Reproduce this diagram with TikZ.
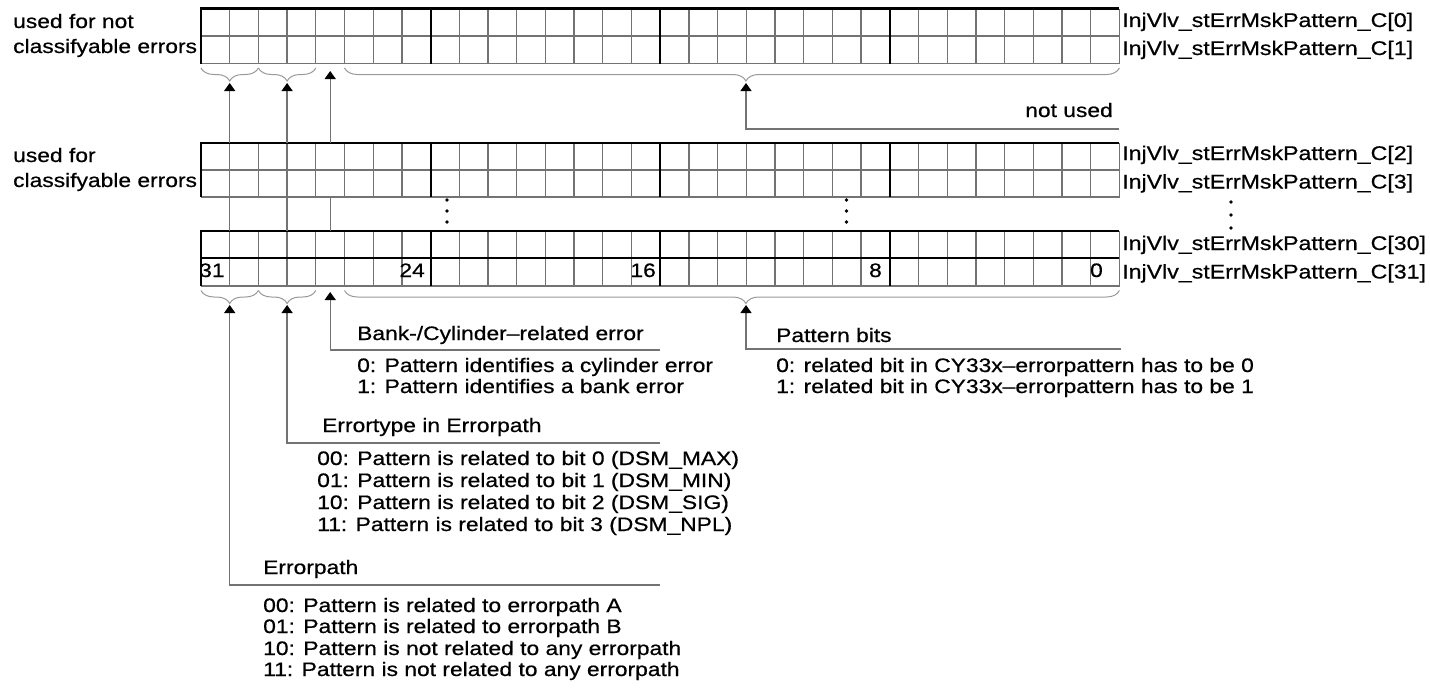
\documentclass[tikz,border=0pt]{standalone}
\usepackage{fontspec}
\setmainfont{Liberation Sans}[FakeStretch=1.17,FakeBold=0.6]
\usetikzlibrary{arrows.meta,decorations.pathreplacing}
\definecolor{gridgray}{gray}{0.45}
\definecolor{bracegray}{gray}{0.6}
\tikzset{
  thingrid/.style={draw=gridgray,line width=1.3pt},
  thickgrid/.style={draw=black,line width=2.2pt},
  conn/.style={draw=gridgray,line width=1.3pt},
  arr/.style={draw=gridgray,line width=1.3pt,-{Triangle[width=11pt,length=8pt,color=black]}},
  brc/.style={draw=bracegray,line width=1pt,decorate,decoration={brace,mirror,amplitude=13pt,aspect=#1}},
  brc/.default=0.5,
  txt/.style={font=\fontsize{19.5}{23}\selectfont,inner sep=0pt,anchor=base west},
  txte/.style={txt,anchor=base east},
  rlbl/.style={txt,font=\fontsize{19.8}{23}\selectfont},
  dot/.style={fill=black,draw=none},
}
\newcommand\regblock[4]{%
  \foreach \i in {1,...,31}{%
    \pgfmathtruncatemacro\mm{mod(\i,8)}%
    \ifnum\mm>0 \draw[thingrid] ({\xo+\i*\cw},#1) -- ({\xo+\i*\cw},#3);\fi
  }
  \draw[thingrid] (\xo,#3) -- (\xr,#3) -- (\xr,#1);
  \draw[#4] (\xo,#2) -- (\xr,#2);
  \foreach \i in {8,16,24}{\draw[thickgrid] ({\xo+\i*\cw},#1) -- ({\xo+\i*\cw},#3);}
  \draw[thickgrid] (\xo,#3) -- (\xo,#1) -- (\xr,#1);
}
\begin{document}
\begin{tikzpicture}[x=1pt,y=-1pt]
\useasboundingbox (0,0) rectangle (1430,688);
\def\xo{201}\def\cw{28.7}\def\xr{1119.4}

% register blocks
\regblock{8.5}{36}{63.5}{thingrid}
\regblock{143}{170}{197}{thingrid}
\regblock{231}{258}{286}{thickgrid}

% gap lines between C[3] and C[30]
\foreach \x/\n in {229.7/g1,287.1/g2,330.2/g3}{
  \coordinate (\n a) at (\x,197);
  \coordinate (\n b) at (\x,231);
  \draw[conn] (\n a) -- (\n b);
}

% dots
\foreach \x/\ya/\yb/\yc in {447/200/211/222,846.5/200/211/222,1231/202/215/228}{
  \fill[dot] (\x,\ya) circle (1.8);
  \fill[dot] (\x,\yb) circle (1.8);
  \fill[dot] (\x,\yc) circle (1.8);
}

% left labels
\node[txt] (ua1) at (13,28) {used for not};
\node[txt] (ua2) at (13,53) {classifyable errors};
\node[txt] (ub1) at (13,162) {used for};
\node[txt] (ub2) at (13,187) {classifyable errors};

% right labels
\node[rlbl] (c0) at (1122,27) {InjVlv\_stErrMskPattern\_C[0]};
\node[rlbl] (c1) at (1122,55) {InjVlv\_stErrMskPattern\_C[1]};
\node[rlbl] (c2) at (1122,160) {InjVlv\_stErrMskPattern\_C[2]};
\node[rlbl] (c3) at (1122,188.5) {InjVlv\_stErrMskPattern\_C[3]};
\node[rlbl] (c30) at (1122,250) {InjVlv\_stErrMskPattern\_C[30]};
\node[rlbl] (c31) at (1122,278.5) {InjVlv\_stErrMskPattern\_C[31]};

% bit numbers
\node[txt] (n31) at (199,277) {31};
\node[txte] (n24) at (425,277) {24};
\node[txte] (n16) at (656,277) {16};
\node[txte] (n8) at (882,277) {8};
\node[txte] (n0) at (1103,277) {0};

% top braces
\draw[brc] (201,68) -- (258.4,68);
\draw[brc] (258.4,68) -- (315.8,68);
\draw[brc=0.518] (344.5,68) -- (1119.4,68);

% top arrows
\coordinate (ts1) at (229.7,143); \coordinate (tt1) at (229.7,83);
\coordinate (ts2) at (287.1,143); \coordinate (tt2) at (287.1,83);
\coordinate (ts3) at (330.2,143); \coordinate (tt3) at (330.2,71);
\coordinate (te4) at (1119.4,129); \coordinate (ts4) at (746,129); \coordinate (tt4) at (746,83);
\draw[arr] (ts1) -- (tt1);
\draw[arr] (ts2) -- (tt2);
\draw[arr] (ts3) -- (tt3);
\draw[arr] (te4) -- (ts4) -- (tt4);
\node[txte] (nu) at (1113,117) {not used};

% bottom braces
\draw[brc] (201,290.5) -- (258.4,290.5);
\draw[brc] (258.4,290.5) -- (315.8,290.5);
\draw[brc=0.518] (344.5,290.5) -- (1119.4,290.5);

% bottom arrows
\coordinate (be1) at (660,585); \coordinate (bs1) at (229.7,585); \coordinate (bt1) at (229.7,305);
\coordinate (be2) at (660,443); \coordinate (bs2) at (287.1,443); \coordinate (bt2) at (287.1,305);
\coordinate (be3) at (660,350); \coordinate (bs3) at (330.2,350); \coordinate (bt3) at (330.2,292);
\coordinate (be4) at (1121,349); \coordinate (bs4) at (746,349); \coordinate (bt4) at (746,305);
\draw[arr] (be1) -- (bs1) -- (bt1);
\draw[arr] (be2) -- (bs2) -- (bt2);
\draw[arr] (be3) -- (bs3) -- (bt3);
\draw[arr] (be4) -- (bs4) -- (bt4);

% bank / cylinder
\node[txt] (bk0) at (357,340) {Bank-/Cylinder–related error};
\node[txt] (bk1) at (357,372) {0: Pattern identifies a cylinder error};
\node[txt] (bk2) at (357,393) {1: Pattern identifies a bank error};

% pattern bits
\node[txt] (pb0) at (776,342) {Pattern bits};
\node[txt] (pb1) at (776,372) {0: related bit in CY33x–errorpattern has to be 0};
\node[txt] (pb2) at (776,393) {1: related bit in CY33x–errorpattern has to be 1};

% errortype
\node[txt] (et0) at (322,432) {Errortype in Errorpath};
\node[txt] (et1) at (317,465) {00: Pattern is related to bit 0 (DSM\_MAX)};
\node[txt] (et2) at (317,487) {01: Pattern is related to bit 1 (DSM\_MIN)};
\node[txt] (et3) at (317,509) {10: Pattern is related to bit 2 (DSM\_SIG)};
\node[txt] (et4) at (317,531) {11: Pattern is related to bit 3 (DSM\_NPL)};

% errorpath
\node[txt] (ep0) at (263,574) {Errorpath};
\node[txt] (ep1) at (263,612) {00: Pattern is related to errorpath A};
\node[txt] (ep2) at (263,633) {01: Pattern is related to errorpath B};
\node[txt] (ep3) at (263,655) {10: Pattern is not related to any errorpath};
\node[txt] (ep4) at (263,676) {11: Pattern is not related to any errorpath};
\end{tikzpicture}
\end{document}
